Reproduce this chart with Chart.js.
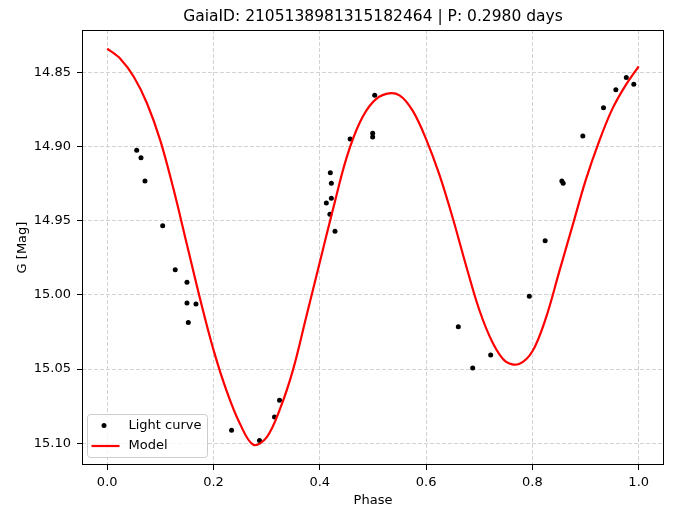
<!DOCTYPE html>
<html>
<head>
<meta charset="utf-8">
<script src="https://cdn.jsdelivr.net/npm/chart.js@4.4.1/dist/chart.umd.min.js"></script>
<style>
  html, body { margin: 0; padding: 0; background: #fff; }
  #wrap { width: 676px; height: 513px; }
</style>
</head>
<body>
<div id="wrap"><canvas id="lcChart" width="676" height="513"></canvas></div>
<script>
// light curve points (phase, G mag)
const lcPhase = [0.0555, 0.0636, 0.0711, 0.1044, 0.1280, 0.1501, 0.1501, 0.1670, 0.1526,
  0.2340, 0.2865, 0.3148, 0.3242, 0.4123, 0.4190, 0.4198, 0.4217, 0.4217, 0.4286,
  0.4571, 0.4995, 0.4995, 0.5033, 0.6606, 0.6877, 0.7215, 0.7942, 0.8240, 0.8554,
  0.8579, 0.8949, 0.9338, 0.9570, 0.9767, 0.9908];
const lcMag = [14.9025, 14.9075, 14.9232, 14.9534, 14.9831, 14.9915, 15.0055, 15.0061, 15.0186,
  15.0912, 15.0981, 15.0823, 15.0710, 14.9381, 14.9456, 14.9177, 14.9248, 14.9349, 14.9571,
  14.8949, 14.8910, 14.8936, 14.8655, 15.0214, 15.0493, 15.0405, 15.0009, 14.9635, 14.9232,
  14.9247, 14.8929, 14.8739, 14.8617, 14.8535, 14.8580];

// model curve, every 0.025 in phase
const modelPhase = [0.000, 0.025, 0.050, 0.075, 0.100, 0.125, 0.150, 0.175, 0.200, 0.225,
  0.250, 0.275, 0.300, 0.325, 0.350, 0.375, 0.400, 0.425, 0.450, 0.475,
  0.500, 0.525, 0.550, 0.575, 0.600, 0.625, 0.650, 0.675, 0.700, 0.725,
  0.750, 0.775, 0.800, 0.825, 0.850, 0.875, 0.900, 0.925, 0.950, 0.975, 1.000];
const modelMag = [14.834, 14.841, 14.853, 14.871, 14.896, 14.929, 14.966, 15.003, 15.037, 15.065,
  15.087, 15.101, 15.096, 15.077, 15.050, 15.014, 14.978, 14.942, 14.908, 14.884,
  14.870, 14.8645, 14.8655, 14.876, 14.895, 14.919, 14.948, 14.980, 15.010, 15.032,
  15.045, 15.0465, 15.038, 15.016, 14.985, 14.954, 14.923, 14.897, 14.875, 14.859, 14.846];

const xTicks = [0.0, 0.2, 0.4, 0.6, 0.8, 1.0];
const yTicks = [14.85, 14.90, 14.95, 15.00, 15.05, 15.10];

const titleText = 'GaiaID: 2105138981315182464 | P: 0.2980 days';
const FONT = "'DejaVu Sans', sans-serif";

var lcPoints = lcPhase.map(function(p, i){ return {x: p, y: lcMag[i]}; });
var modelPoints = modelPhase.map(function(p, i){ return {x: p, y: modelMag[i]}; });

// box around the plot + legend in lower left
const framePlugin = {
  id: 'frameAndLegend',
  afterDraw: function(chart){
    var ctx = chart.ctx, a = chart.chartArea;
    ctx.save();
    ctx.strokeStyle = '#000';
    ctx.lineWidth = 1;
    ctx.strokeRect(Math.round(a.left) + 0.5, Math.round(a.top) + 0.5,
      Math.round(a.right - a.left) - 1, Math.round(a.bottom - a.top) - 1);

    // legend
    var lx = a.left + 5.5, ly = a.bottom - 50.5, lw = 120, lh = 43;
    ctx.beginPath();
    ctx.roundRect(lx, ly, lw, lh, 3);
    ctx.fillStyle = 'rgba(255,255,255,0.8)';
    ctx.fill();
    ctx.strokeStyle = '#cccccc';
    ctx.stroke();

    ctx.fillStyle = '#000';
    ctx.beginPath();
    ctx.arc(lx + 16.5, ly + 11, 2.5, 0, Math.PI * 2);
    ctx.fill();

    ctx.strokeStyle = 'red';
    ctx.lineWidth = 2.2;
    ctx.beginPath();
    ctx.moveTo(lx + 4, ly + 31.5);
    ctx.lineTo(lx + 32, ly + 31.5);
    ctx.stroke();

    ctx.font = '13px ' + FONT;
    ctx.textBaseline = 'middle';
    ctx.textAlign = 'left';
    ctx.fillText('Light curve', lx + 41, ly + 11);
    ctx.fillText('Model', lx + 41, ly + 31.5);
    ctx.restore();
  }
};

var ch1 = new Chart('lcChart', {
  type: 'scatter',
  data: {
    datasets: [{
      label: 'Model',
      data: modelPoints,
      showLine: true,
      borderColor: 'red',
      borderWidth: 2.2,
      pointRadius: 0,
      tension: 0.35,
      order: 0
    }, {
      label: 'Light curve',
      data: lcPoints,
      pointRadius: 2.5,
      pointBackgroundColor: '#000',
      pointBorderWidth: 0,
      order: 1
    }]
  },
  options: {
    responsive: false,
    animation: false,
    layout: { padding: { left: 0, right: 12, top: 0, bottom: 0 } },
    plugins: {
      legend: { display: false },
      tooltip: { enabled: false },
      title: {
        display: true,
        fullSize: false,
        text: titleText,
        color: '#000',
        font: { family: FONT, size: 15.5, weight: 'normal' },
        padding: { top: 8, bottom: 3.4 }
      }
    },
    scales: {
      x: {
        type: 'linear',
        min: -0.0474,
        max: 1.0476,
        afterFit: function(s){ s.height = 48; },
        afterBuildTicks: function(s){ s.ticks = xTicks.map(function(v){ return {value: v}; }); },
        ticks: {
          color: '#000',
          font: { family: FONT, size: 13 },
          padding: 5,
          maxRotation: 0,
          callback: function(v){ return Number(v).toFixed(1); }
        },
        grid: { color: '#d3d3d3', tickColor: '#000', tickLength: 5, tickBorderDash: [] },
        border: { display: false, dash: [4, 2] },
        title: { display: true, text: 'Phase', color: '#000', font: { family: FONT, size: 13 }, padding: { top: 0, bottom: 5 } }
      },
      y: {
        type: 'linear',
        reverse: true,
        min: 14.8215,
        max: 15.1146,
        afterFit: function(s){ s.width = 82; },
        afterBuildTicks: function(s){ s.ticks = yTicks.map(function(v){ return {value: v}; }); },
        ticks: {
          color: '#000',
          font: { family: FONT, size: 13 },
          padding: 6,
          callback: function(v){ return Number(v).toFixed(2); }
        },
        grid: { color: '#d3d3d3', tickColor: '#000', tickLength: 5, tickBorderDash: [] },
        border: { display: false, dash: [4, 2] },
        title: { display: true, text: 'G [Mag]', color: '#000', font: { family: FONT, size: 13 }, padding: { top: 15, bottom: 0 } }
      }
    }
  },
  plugins: [framePlugin]
});
</script>
</body>
</html>
